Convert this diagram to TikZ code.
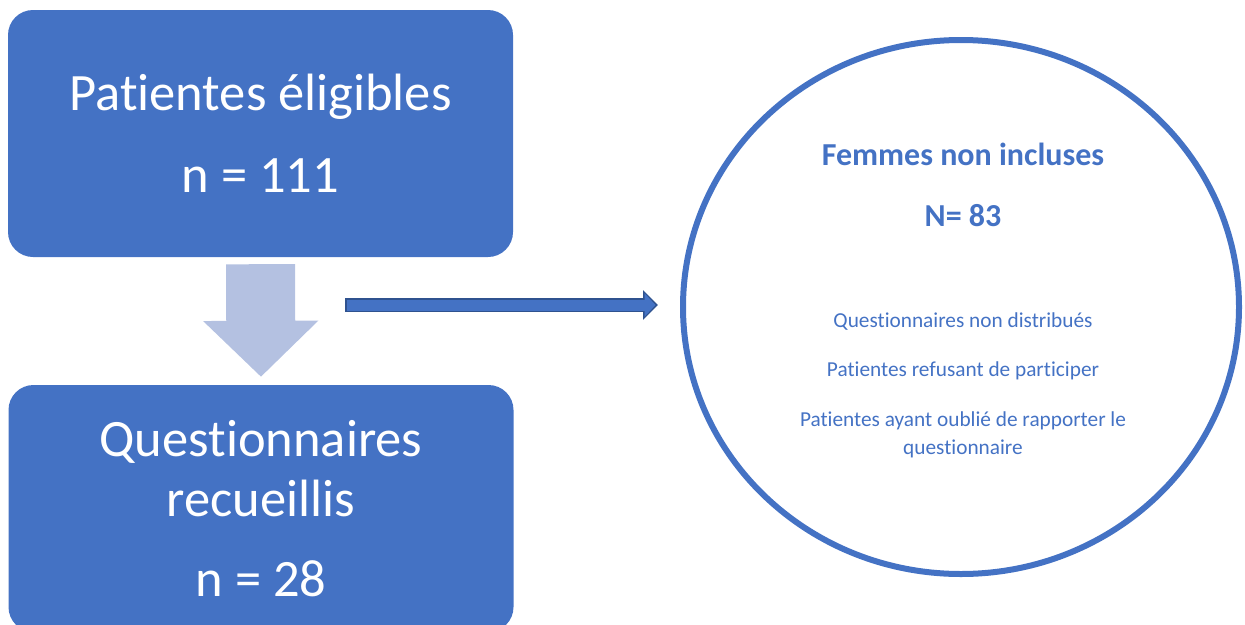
\documentclass[tikz,border=0pt]{standalone}
\usepackage{fontspec}
\setmainfont[Ligatures=NoCommon]{Carlito}
\usepackage{tikz}
\usetikzlibrary{shapes.geometric, arrows.meta, positioning}
\definecolor{boxblue}{RGB}{68,114,196}
\definecolor{lightarrow}{RGB}{180,193,225}
\definecolor{arrowedge}{RGB}{47,82,143}
\tikzset{x=1pt, y=-1pt,
	bigbox/.style={rectangle, rounded corners=25pt, fill=boxblue, text=white, align=center, minimum width=505pt, minimum height=247pt, inner sep=0pt, font=\fontsize{52.5}{60}\selectfont},
	circtext/.style={text=boxblue, align=center, inner sep=0pt, font=\fontsize{21.3}{28}\selectfont},
	circtitle/.style={text=boxblue, inner sep=0pt, font=\fontsize{32}{38}\selectfont\bfseries}}

\begin{document}
\begin{tikzpicture}
	\clip (0,0) rectangle (1245,624);
	\useasboundingbox (0,0) rectangle (1245,624);
	\node[bigbox] (Eligibles) at (260.5,133.5) {Patientes éligibles\\[22pt]n = 111};
	\node[bigbox] (Recueillis) at (261,508.5) {Questionnaires\\recueillis\\[20pt]n = 28};
	\node[ellipse, draw=boxblue, line width=6pt, minimum width=556pt, minimum height=534pt] (Exclues) at (961,307) {};
	\node[circtitle] (Titre) at (963,154) {Femmes non incluses};
	\node[circtitle] (Nombre) at (963,216) {N= 83};
	\node[circtext] (Raison1) at (963,322) {Questionnaires non distribués};
	\node[circtext] (Raison2) at (963,371) {Patientes refusant de participer};
	\node[circtext] (Raison3) at (963,435) {Patientes ayant oublié de rapporter le\\questionnaire};
	\coordinate (Depart) at (345,305);
	\draw[lightarrow, line width=69pt, -{Triangle[length=56pt, width=112pt]}, shorten <=7pt, shorten >=8pt] (Eligibles.south) -- (Recueillis.north);
	\draw[arrowedge, line width=14pt, -{Triangle[length=15pt, width=29pt]}, shorten >=22pt] (Depart) -- (Depart -| Exclues.west);
	\draw[boxblue, line width=11pt, -{Triangle[length=11pt, width=23pt]}, shorten <=1.5pt, shorten >=24.5pt] (Depart) -- (Depart -| Exclues.west);
\end{tikzpicture}
\end{document}
